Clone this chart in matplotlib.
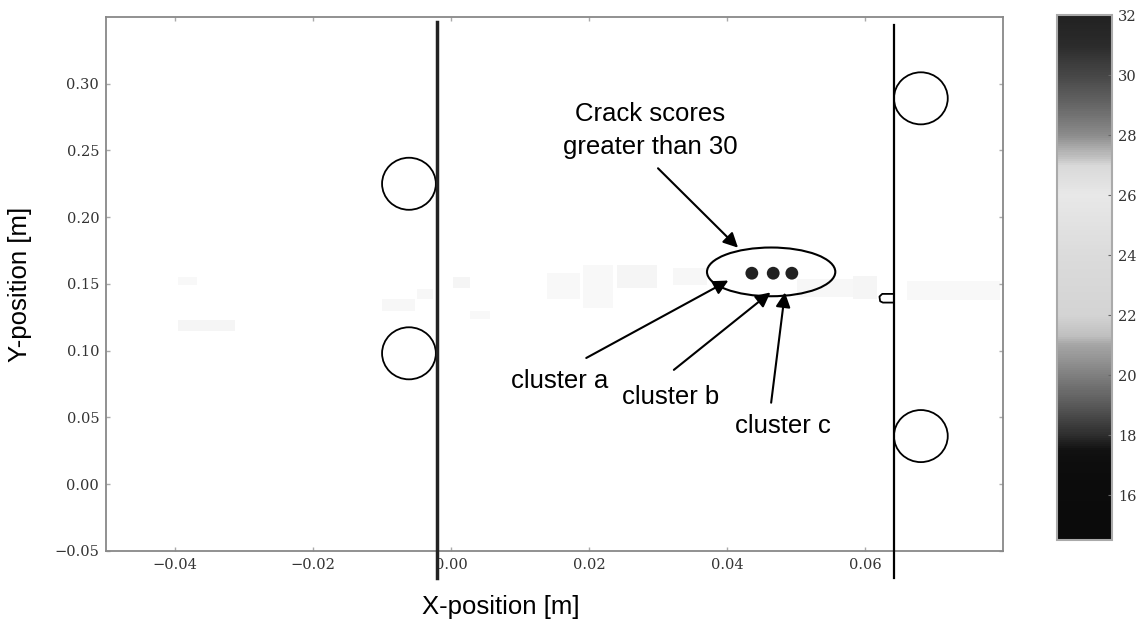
import numpy as np
import matplotlib
matplotlib.use("Agg")
import matplotlib.pyplot as plt
from matplotlib.colors import LinearSegmentedColormap, Normalize
from matplotlib.patches import Ellipse, Rectangle
from matplotlib.ticker import FuncFormatter

# crack score colour scale (score, grey level)
scale_scores = [14.5, 17.0, 17.5, 18.0, 19.0, 20.0, 21.0, 21.3, 22.0, 24.0, 26.0, 27.0, 27.3, 28.0, 29.0, 30.0, 31.0, 32.0]
scale_greys = [0.04, 0.05, 0.07, 0.18, 0.35, 0.50, 0.65, 0.75, 0.83, 0.86, 0.91, 0.85, 0.75, 0.55, 0.40, 0.28, 0.17, 0.13]

# faint low-score cells along the crack line (x0, x1, y0, y1, score)
cell_x0 = [-0.0396, -0.0396, -0.0100, -0.0049, 0.0003, 0.0028, 0.0139, 0.0191, 0.0241, 0.0322, 0.0502, 0.0583, 0.0661]
cell_x1 = [-0.0368, -0.0313, -0.0052, -0.0026, 0.0028, 0.0057, 0.0187, 0.0235, 0.0299, 0.0371, 0.0583, 0.0618, 0.0796]
cell_y0 = [0.149, 0.115, 0.130, 0.139, 0.147, 0.124, 0.139, 0.132, 0.147, 0.149, 0.140, 0.139, 0.138]
cell_y1 = [0.155, 0.123, 0.139, 0.146, 0.155, 0.130, 0.158, 0.164, 0.164, 0.162, 0.154, 0.156, 0.152]
cell_score = [25.5, 24.0, 25.0, 25.0, 24.0, 25.5, 25.5, 25.5, 24.0, 25.0, 25.0, 23.5, 25.5]

# clusters with crack score > 30
cluster_x = [0.0436, 0.0467, 0.0494]
cluster_y = [0.158, 0.158, 0.158]
cluster_score = [32.0, 32.0, 32.0]

# fastener holes (centre x, centre y)
hole_x = [-0.0061, -0.0061, 0.0681, 0.0681]
hole_y = [0.225, 0.098, 0.289, 0.036]

# stiffener edges
edge_x = [-0.0020, 0.0642]

cmap = LinearSegmentedColormap.from_list(
    "crack",
    [((s - 14.5) / (32 - 14.5), (g, g, g)) for s, g in zip(scale_scores, scale_greys)],
)
norm = Normalize(vmin=14.5, vmax=32)

fig = plt.figure(figsize=(11.41, 6.26), dpi=100)
ax = fig.add_axes([0.093, 0.120, 0.786, 0.853])
cax = fig.add_axes([0.926, 0.137, 0.049, 0.839])

for x0, x1, y0, y1, s in zip(cell_x0, cell_x1, cell_y0, cell_y1, cell_score):
    ax.add_patch(Rectangle((x0, y0), x1 - x0, y1 - y0, facecolor=cmap(norm(s)),
                           edgecolor="none", alpha=0.25, zorder=1))

ax.scatter(cluster_x, cluster_y, c=cluster_score, cmap=cmap, norm=norm, s=85,
           edgecolors="none", zorder=3)

for hx, hy in zip(hole_x, hole_y):
    ax.add_patch(Ellipse((hx, hy), 0.0078, 0.039, fill=False, edgecolor="black", lw=1.3, zorder=4))

ax.plot([edge_x[0], edge_x[0]], [0.346, -0.070], color="#222222", lw=2.5, clip_on=False, zorder=5)
ax.plot([edge_x[1], edge_x[1]], [0.344, -0.070], color="black", lw=1.6, clip_on=False, zorder=5)
# small notch on the right edge
ax.plot([0.0642, 0.0625, 0.0621, 0.0622, 0.0626, 0.0642],
        [0.1425, 0.1425, 0.1405, 0.1370, 0.1360, 0.1360], color="black", lw=1.3, zorder=5)

ax.set_xlim(-0.05, 0.08)
ax.set_ylim(-0.05, 0.35)
ax.set_xticks([-0.04, -0.02, 0.00, 0.02, 0.04, 0.06])
ax.set_yticks([-0.05, 0.00, 0.05, 0.10, 0.15, 0.20, 0.25, 0.30])
fmt = FuncFormatter(lambda v, p: f"{v:.2f}".replace("-", "\u2212"))
ax.xaxis.set_major_formatter(fmt)
ax.yaxis.set_major_formatter(fmt)
ax.tick_params(direction="in", length=3, width=1, color="#aaaaaa", top=True, right=True,
               labelsize=10.5, labelcolor="#333333", pad=5)
for lab in ax.get_xticklabels() + ax.get_yticklabels():
    lab.set_family("DejaVu Serif")
for sp in ax.spines.values():
    sp.set_color("#888888")
    sp.set_linewidth(1.3)

sans = "Liberation Sans"
ax.set_xlabel("X-position [m]", family=sans, fontsize=18.5)
ax.xaxis.set_label_coords(0.44, -0.082)
ax.set_ylabel("Y-position [m]", family=sans, fontsize=18.5)
ax.yaxis.set_label_coords(-0.083, 0.50)

# annotation ellipse around the clusters
ax.add_patch(Ellipse((0.0464, 0.159), 0.0186, 0.0365, fill=False, edgecolor="black", lw=1.5, zorder=6))

arrow = dict(arrowstyle="-|>", mutation_scale=22, lw=1.5, color="black", shrinkA=0, shrinkB=0)
ax.text(0.0289, 0.2649, "Crack scores\ngreater than 30", family=sans, fontsize=18.5,
        ha="center", va="center", linespacing=1.45)
ax.annotate("", xy=(0.0416, 0.1771), xytext=(0.0300, 0.2366), arrowprops=arrow)
ax.text(0.0157, 0.0774, "cluster a", family=sans, fontsize=18.5, ha="center", va="center")
ax.annotate("", xy=(0.0402, 0.1525), xytext=(0.0196, 0.0945), arrowprops=arrow)
ax.text(0.0319, 0.0655, "cluster b", family=sans, fontsize=18.5, ha="center", va="center")
ax.annotate("", xy=(0.0463, 0.1436), xytext=(0.0323, 0.0856), arrowprops=arrow)
ax.text(0.0481, 0.0432, "cluster c", family=sans, fontsize=18.5, ha="center", va="center")
ax.annotate("", xy=(0.0484, 0.1436), xytext=(0.0464, 0.0610), arrowprops=arrow)

cb = fig.colorbar(matplotlib.cm.ScalarMappable(norm=norm, cmap=cmap), cax=cax)
cb.set_ticks([16, 18, 20, 22, 24, 26, 28, 30, 32])
cb.outline.set_edgecolor("#aaaaaa")
cb.outline.set_linewidth(1.5)
cax.tick_params(direction="in", length=3, color="#666666", labelsize=10.5, labelcolor="#333333", pad=4)
for lab in cax.get_yticklabels():
    lab.set_family("DejaVu Serif")

fig.savefig("out.png", dpi=100)
